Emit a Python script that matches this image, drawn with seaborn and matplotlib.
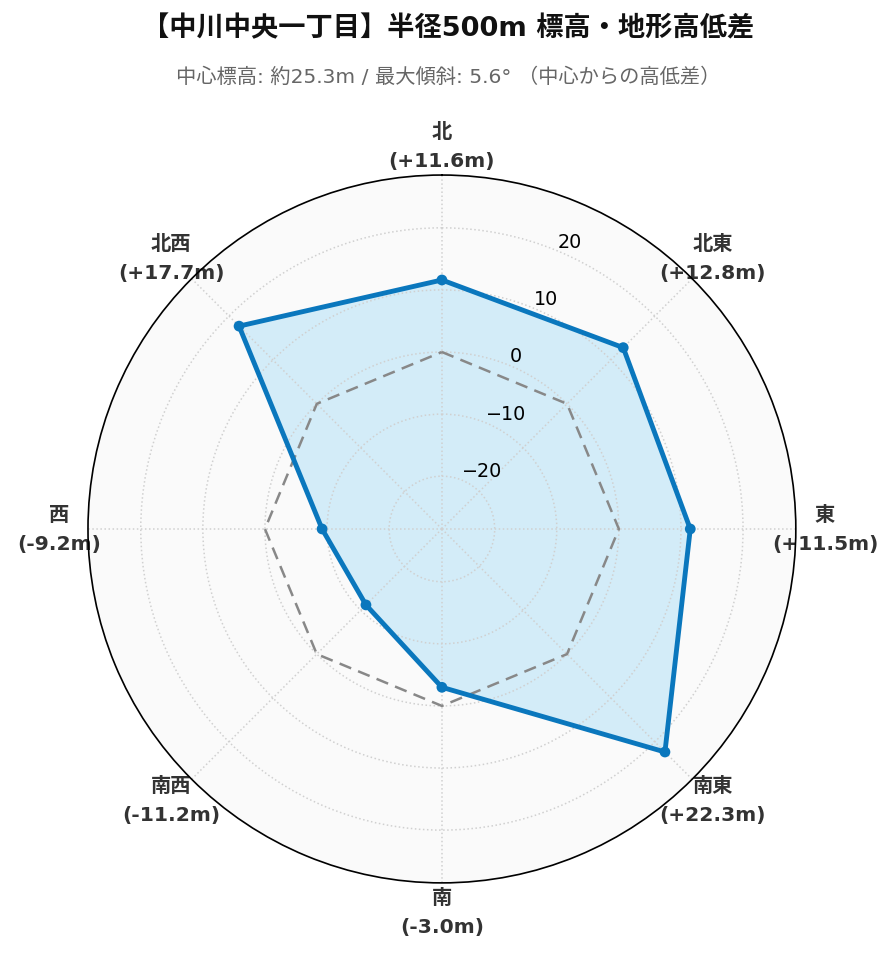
import numpy as np
import pandas as pd
import matplotlib
matplotlib.use("Agg")
import matplotlib.pyplot as plt
import seaborn as sns

# ---- data ----
directions = ["北", "北東", "東", "南東", "南", "南西", "西", "北西"]
diffs = [11.6, 12.8, 11.5, 22.3, -3.0, -11.2, -9.2, 17.7]
title = "【中川中央一丁目】半径500m 標高・地形高低差"
subtitle = "中心標高: 約25.3m / 最大傾斜: 5.6° （中心からの高低差）"
r_limit = 28.5

sns.set_theme(style="white")
plt.rcParams["font.family"] = ["DejaVu Sans", "Noto Sans CJK JP"]
plt.rcParams["axes.unicode_minus"] = True

angles_deg = np.arange(len(directions)) * 45.0
angles = np.deg2rad(angles_deg)

df = pd.DataFrame({"theta": np.append(angles, angles[0]),
                   "r": np.append(diffs, diffs[0])})
zero_df = pd.DataFrame({"theta": np.append(angles, angles[0]),
                        "r": np.zeros(len(directions) + 1)})

fig = plt.figure(figsize=(8.96, 9.62), dpi=100)
ax = fig.add_axes([0.0982, 0.0811, 0.790, 0.736], projection="polar")
ax.set_theta_zero_location("N")
ax.set_theta_direction(-1)
ax.set_facecolor("#fafafa")
ax.set_axisbelow(True)

ax.fill(df["theta"], df["r"], color="#d3ecf8", zorder=0.2)
sns.lineplot(data=zero_df, x="theta", y="r", sort=False, estimator=None, ax=ax,
             color="#888888", linewidth=1.8, linestyle=(0, (5, 3)), zorder=3)
sns.lineplot(data=df, x="theta", y="r", sort=False, estimator=None, ax=ax,
             color="#0a77bd", linewidth=3.5, zorder=4)
sns.scatterplot(data=df.iloc[:-1], x="theta", y="r", ax=ax, color="#0a77bd",
                s=60, edgecolor="none", zorder=5)

ax.set_ylim(-r_limit, r_limit)
ax.set_yticks([-20, -10, 0, 10, 20])
ax.set_rlabel_position(22.5)
ax.tick_params(axis="y", labelsize=13.8, colors="black")

labels = []
for d, v in zip(directions, diffs):
    sign = "+" if v >= 0 else "-"
    labels.append(f"{d}\n({sign}{abs(v):.1f}m)")
ax.set_xticks(angles)
ax.set_xticklabels(labels, fontsize=14.6, fontweight="bold", color="#333333",
                   linespacing=1.68)
ax.tick_params(axis="x", pad=8)

ax.grid(True, color="#d0d0d0", linestyle=":", linewidth=1.1)
ax.spines["polar"].set_color("black")
ax.spines["polar"].set_linewidth(1.2)
ax.spines["polar"].set_zorder(6)
ax.set_xlabel("")
ax.set_ylabel("")

fig.text(0.5, 0.9695, title, ha="center", va="center", fontsize=19.6,
         fontweight="bold", color="#111111")
fig.text(0.5, 0.920, subtitle, ha="center", va="center", fontsize=14.6,
         color="#666666")

fig.savefig("out.png", dpi=100)
